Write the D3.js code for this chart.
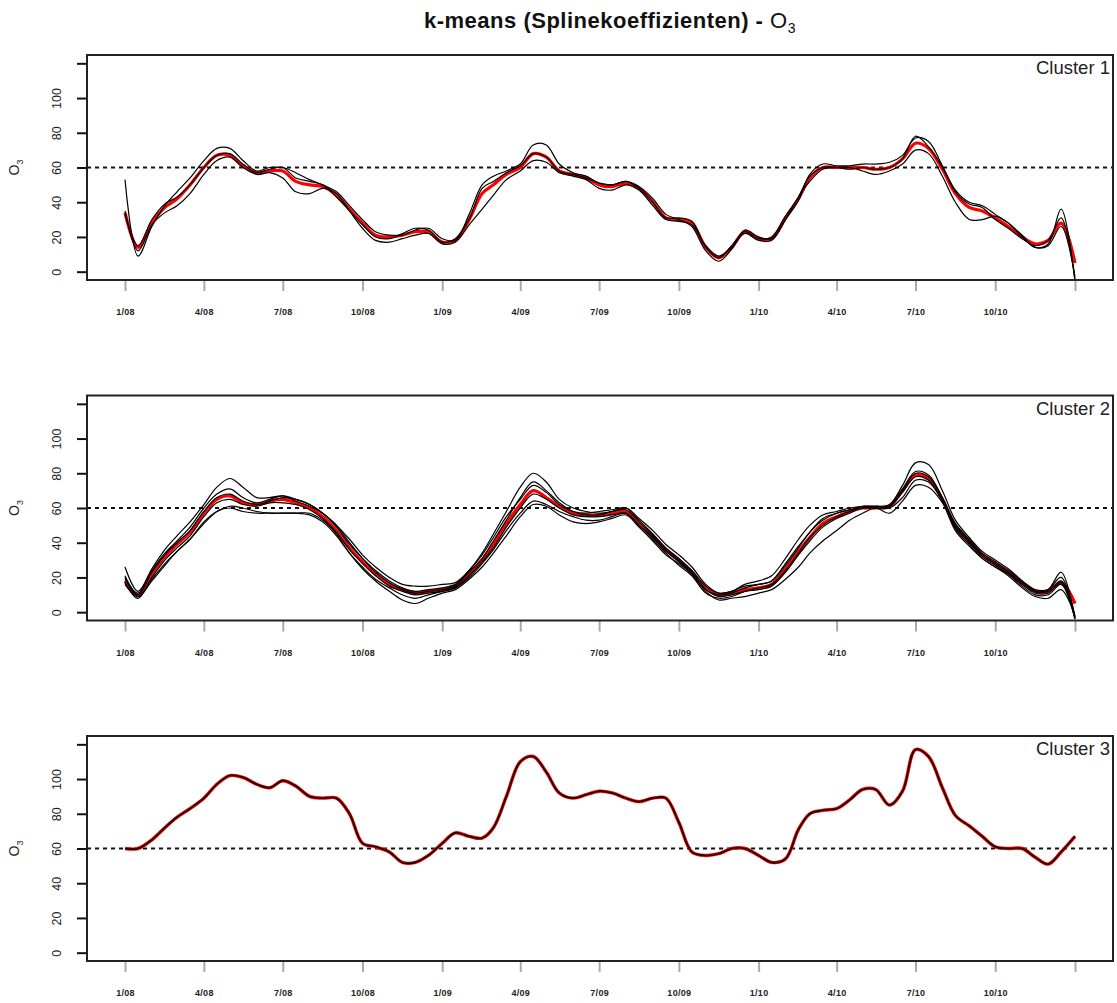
<!DOCTYPE html>
<html>
<head>
<meta charset="utf-8">
<script src="https://cdn.jsdelivr.net/npm/d3@7"></script>
<style>
  body { margin: 0; background: #fff; }
  svg { display: block; font-family: Arial, "Liberation Sans", sans-serif; }
</style>
</head>
<body>
<svg id="chart" width="1117" height="1003"></svg>
<script>
// -----------------------------
// DATA (semi-monthly, 1/08 .. 1/11)
// -----------------------------
const TIMES = d3.range(73).map(k => new Date(2008, Math.floor(k / 2), k % 2 ? 16 : 1));

const X_TICK_DATES = d3.range(13).map(i => new Date(2008, 3 * i, 1));
const X_TICK_LABELS = ["1/08","4/08","7/08","10/08","1/09","4/09","7/09","10/09","1/10","4/10","7/10","10/10",""];
const Y_TICKS = [0, 20, 40, 60, 80, 100, 120];
const Y_TICK_LABELS = ["0","20","40","60","80","100",""];
const REF_LEVEL = 60;

const CLUSTER_NAMES = ["Cluster 1", "Cluster 2", "Cluster 3"];

// Cluster 1
const C1_MEAN = [34,14,28,37,42,50,60,67,67,61,57,58,58,52,50,49,44,36,28,21,20,21,23,23,17,18,30,45,50,56,60,68,66,58,56,54,50,49,51,48,40,31,30,28,14,8,14,23,19,19,31,42,54,60,60,60,60,59,60,65,74,71,59,45,37,35,31,26,20,16,18,28,5];
const C1_A = [53,9,26,38,46,54,64,71,71,64,58,60,60,57,53,50,46,38,30,23,21,21,24,25,19,18,33,50,55,58,62,73,73,62,57,55,51,50,52,49,42,33,30,26,12,6,13,24,20,19,30,41,56,62,61,61,62,62,63,67,77,75,61,47,40,38,33,28,21,14,16,36,-5];
const C1_B = [35,12,27,34,38,45,56,64,66,60,56,57,54,46,45,48,45,35,25,18,17,19,21,22,16,17,27,36,44,53,58,64,63,57,55,53,48,47,50,47,38,30,29,27,15,9,14,22,18,18,30,43,52,59,60,60,58,56,58,62,70,68,55,40,30,30,32,28,20,14,15,26,-3];
const C1_C = [33,15,30,39,43,50,60,67,68,62,57,59,60,54,52,50,43,35,27,20,19,22,25,24,17,19,30,48,52,57,61,68,66,58,56,54,51,50,52,48,40,31,31,29,14,8,15,23,19,20,32,43,55,60,60,59,60,59,60,65,78,72,60,46,39,37,30,25,19,15,18,31,-5];

// Cluster 2
const C2_MEAN = [18,10,22,32,39,46,57,65,67,63,62,64,65,63,60,55,47,37,29,22,16,13,11,12,13,15,22,30,39,51,62,70,66,61,57,56,56,57,58,51,44,36,30,23,14,10,11,13,14,16,25,35,43,51,55,58,60,60,61,70,79,77,65,50,41,33,28,23,17,12,12,17,5];
const C2_A = [26,12,25,36,44,52,62,72,77,72,66,66,67,64,61,57,50,42,33,26,20,16,15,15,16,17,24,34,45,58,72,80,75,65,60,58,57,58,60,54,47,39,33,26,16,11,12,16,18,21,31,42,50,56,58,60,61,61,62,73,86,85,70,53,43,35,30,25,18,12,13,23,-3];
const C2_B = [20,9,18,27,35,42,51,58,61,60,58,57,57,57,57,53,45,34,25,18,12,7,5,8,11,13,19,26,34,44,55,62,61,56,52,51,52,54,56,49,41,33,28,22,12,7,8,9,11,13,19,26,34,41,47,53,57,60,57,64,73,72,63,47,38,31,26,21,14,9,8,13,-2];
const C2_C = [19,11,24,34,41,49,60,68,71,66,63,65,67,65,62,57,49,39,31,24,18,14,12,13,14,16,24,33,43,55,65,73,69,62,58,57,58,59,60,53,45,37,31,24,15,11,12,15,16,18,28,38,46,54,57,59,61,61,61,71,81,79,66,51,42,34,29,24,18,13,13,20,-3];
const C2_D = [17,8,20,30,37,44,55,63,65,62,61,63,63,62,59,54,46,36,28,21,15,12,10,11,12,14,21,29,37,49,60,68,65,60,56,55,55,56,57,50,43,35,29,22,13,9,10,12,13,15,23,33,41,49,54,57,60,60,61,69,78,76,64,49,40,32,27,22,16,11,11,17,-4];
const C2_E = [21,10,23,33,40,47,58,66,68,64,62,64,66,65,62,57,50,40,31,23,17,13,11,12,13,15,23,31,41,53,66,75,70,63,58,56,56,58,59,52,44,36,30,23,13,10,11,14,16,18,27,37,46,53,57,59,60,61,61,70,80,78,65,50,41,33,28,23,17,12,12,18,-3];
const C2_F = [16,9,19,28,35,42,52,58,60,58,57,57,57,57,56,52,44,34,26,19,14,10,8,10,12,14,20,28,36,47,57,64,62,58,55,53,53,55,57,50,42,34,27,21,11,8,9,12,14,16,24,34,43,50,55,58,60,60,60,66,76,75,64,48,39,31,26,22,15,10,10,16,-4];

// Cluster 3 (single member)
const C3_MEAN = [60,60,65,72,78,83,89,97,102,101,97,95,99,96,90,89,89,80,63,61,58,52,52,56,63,69,67,66,72,90,110,113,104,92,89,91,93,92,89,87,89,89,75,58,56,57,60,60,56,52,54,71,80,82,83,88,94,94,85,93,117,113,95,79,73,67,61,60,60,55,51,58,67];
const C3_A = C3_MEAN.slice();

const CLUSTER_MEANS = [C1_MEAN, C2_MEAN, C3_MEAN];
const CLUSTER_MEMBERS = [[C1_A, C1_B, C1_C], [C2_A, C2_B, C2_C, C2_D, C2_E, C2_F], [C3_A]];

// -----------------------------
// LAYOUT
// -----------------------------
const svg = d3.select("#chart");
const LEFT = 87, RIGHT = 1113;
const PANEL_H = 225, PANEL_STEP = 340.5, FIRST_TOP = 55;

const t0 = TIMES[0], t1 = TIMES[TIMES.length - 1];
const pad = (t1 - t0) * 0.04;
const x = d3.scaleTime()
  .domain([new Date(+t0 - pad), new Date(+t1 + pad)])
  .range([LEFT, RIGHT]);

const Y_DOMAIN = [-4.8, 124.8];

// Title
const title = svg.append("text")
  .attr("x", 610)
  .attr("y", 28)
  .attr("text-anchor", "middle")
  .attr("font-size", 22)
  .attr("letter-spacing", 0.5)
  .attr("fill", "#111");
title.append("tspan").attr("font-weight", "bold").text("k-means (Splinekoeffizienten) - ");
title.append("tspan").text("O");
title.append("tspan").attr("font-size", 14).attr("dy", 5).text("3");

// =============================================================
// PANELS
// =============================================================
CLUSTER_MEANS.forEach((meanSeries, i) => {
  const top = FIRST_TOP + i * PANEL_STEP;
  const bottom = top + PANEL_H;

  const y = d3.scaleLinear().domain(Y_DOMAIN).range([bottom, top]);

  const g = svg.append("g");

  // y axis
  const yAxis = g.append("g")
    .attr("transform", `translate(${LEFT},0)`)
    .call(d3.axisLeft(y).tickValues(Y_TICKS).tickSize(10).tickPadding(20)
      .tickFormat((d, j) => Y_TICK_LABELS[j]));
  yAxis.select(".domain").remove();
  yAxis.selectAll(".tick line").attr("stroke", "#111").attr("stroke-width", 2);
  yAxis.selectAll(".tick text")
    .attr("font-size", 12.5)
    .attr("fill", "#222")
    .attr("text-anchor", "middle")
    .attr("dy", 0)
    .attr("transform", "rotate(-90, -30, 0)")
    .attr("x", -30)
    .attr("y", 4);

  // x axis
  const xAxis = g.append("g")
    .attr("transform", `translate(0,${bottom})`)
    .call(d3.axisBottom(x).tickValues(X_TICK_DATES).tickSize(11).tickPadding(18)
      .tickFormat((d, j) => X_TICK_LABELS[j]));
  xAxis.select(".domain").remove();
  xAxis.selectAll(".tick line").attr("stroke", "#aaa").attr("stroke-width", 2);
  xAxis.selectAll(".tick text")
    .attr("font-size", 9)
    .attr("font-weight", "bold")
    .attr("letter-spacing", 0.3)
    .attr("fill", "#222");

  // y label
  const yl = g.append("text")
    .attr("transform", `translate(19,${(top + bottom) / 2}) rotate(-90)`)
    .attr("text-anchor", "middle")
    .attr("font-size", 14)
    .attr("fill", "#222");
  yl.append("tspan").text("O");
  yl.append("tspan").attr("font-size", 9).attr("dy", 4).text("3");

  // reference line
  g.append("line")
    .attr("x1", LEFT).attr("x2", RIGHT)
    .attr("y1", y(REF_LEVEL)).attr("y2", y(REF_LEVEL))
    .attr("stroke", "#111")
    .attr("stroke-width", 2)
    .attr("stroke-dasharray", "4,4");

  const line = d3.line()
    .x((d, k) => x(TIMES[k]))
    .y(d => y(d))
    .curve(d3.curveCatmullRom.alpha(0.5));

  // mean (red) underneath
  g.append("path")
    .attr("d", line(meanSeries))
    .attr("fill", "none")
    .attr("stroke", "#ff0000")
    .attr("stroke-width", i === 2 ? 3.4 : 3.2)
    .attr("stroke-linejoin", "round");

  // members (black)
  CLUSTER_MEMBERS[i].forEach(s => {
    g.append("path")
      .attr("d", line(s))
      .attr("fill", "none")
      .attr("stroke", "#000")
      .attr("stroke-width", i === 2 ? 1.6 : 1.2)
      .attr("stroke-linejoin", "round");
  });

  // box
  g.append("rect")
    .attr("x", LEFT).attr("y", top)
    .attr("width", RIGHT - LEFT).attr("height", PANEL_H)
    .attr("fill", "none")
    .attr("stroke", "#222")
    .attr("stroke-width", 2);

  // cluster label
  g.append("text")
    .attr("x", RIGHT - 3)
    .attr("y", top + 19)
    .attr("text-anchor", "end")
    .attr("font-size", 18.5)
    .attr("fill", "#222")
    .text(CLUSTER_NAMES[i]);
});
</script>
</body>
</html>
